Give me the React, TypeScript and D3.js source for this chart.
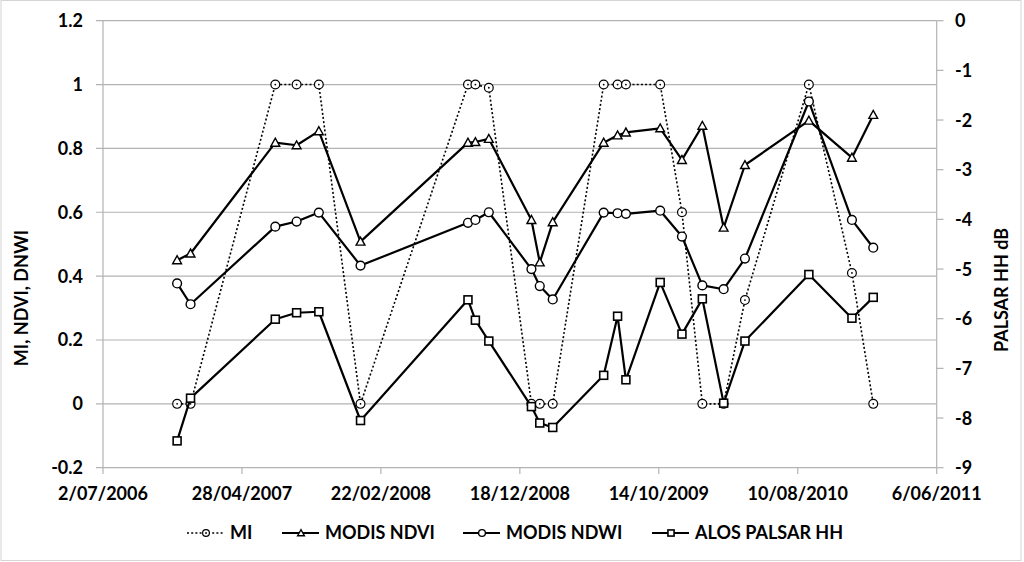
import * as d3 from "d3";

// acquisition dates shared by every series
const dates = [
  "2006-12-09", "2007-01-07", "2007-07-09", "2007-08-24", "2007-10-11",
  "2008-01-09", "2008-08-28", "2008-09-13", "2008-10-12", "2009-01-12",
  "2009-01-30", "2009-02-27", "2009-06-17", "2009-07-17", "2009-08-04",
  "2009-10-17", "2009-12-03", "2010-01-16", "2010-03-03", "2010-04-18",
  "2010-09-03", "2010-12-05", "2011-01-20",
];

const mi = [0, 0, 1, 1, 1, 0, 1, 1, 0.99, 0, 0, 0, 1, 1, 1, 1, 0.6, 0, 0, 0.325, 1, 0.41, 0];
const ndvi = [0.45, 0.471, 0.818, 0.81, 0.854, 0.508, 0.818, 0.82, 0.83, 0.576, 0.443, 0.569, 0.818, 0.841, 0.85, 0.863, 0.764, 0.871, 0.552, 0.748, 0.887, 0.771, 0.905];
const ndwi = [0.377, 0.312, 0.555, 0.571, 0.599, 0.433, 0.567, 0.576, 0.6, 0.422, 0.369, 0.327, 0.599, 0.597, 0.595, 0.605, 0.524, 0.371, 0.359, 0.455, 0.947, 0.576, 0.489];
// right axis, dB
const palsar = [-8.46, -7.6, -6.01, -5.88, -5.86, -8.05, -5.62, -6.03, -6.45, -7.77, -8.1, -8.19, -7.14, -5.95, -7.23, -5.27, -6.31, -5.6, -7.7, -6.45, -5.11, -5.99, -5.57];

const leftTicks = [-0.2, 0, 0.2, 0.4, 0.6, 0.8, 1, 1.2];
const leftLabels = ["-0.2", "0", "0.2", "0.4", "0.6", "0.8", "1", "1.2"];
const rightTicks = [0, -1, -2, -3, -4, -5, -6, -7, -8, -9];
const xTicks = ["2006-07-02", "2007-04-28", "2008-02-22", "2008-12-18", "2009-10-14", "2010-08-10", "2011-06-06"];

const W = 1024;
const H = 562;
const font = "Lato, 'Liberation Sans', sans-serif";

const parse = d3.utcParse("%Y-%m-%d");
const fmtTick = (d: Date) => `${d.getUTCDate()}/${String(d.getUTCMonth() + 1).padStart(2, "0")}/${d.getUTCFullYear()}`;

const x = d3.scaleUtc().domain([parse("2006-07-02")!, parse("2011-06-06")!]).range([103, 936.7]);
const yL = d3.scaleLinear().domain([-0.2, 1.2]).range([467.7, 20.7]);
const yR = d3.scaleLinear().domain([-9, 0]).range([467.7, 20.7]);

type Marker = "circle" | "dotcircle" | "triangle" | "square";

const drawMarker = (kind: Marker, cx: number, cy: number, s: number, key: any) => {
  if (kind === "triangle") {
    const p = `M${cx - s},${cy + s * 0.8}L${cx},${cy - s}L${cx + s},${cy + s * 0.8}Z`;
    return <path key={key} d={p} fill="#fff" stroke="#000" strokeWidth={1.4} />;
  }
  if (kind === "square") {
    return <rect key={key} x={cx - s * 0.9} y={cy - s * 0.9} width={s * 1.8} height={s * 1.8} fill="#fff" stroke="#000" strokeWidth={1.6} />;
  }
  if (kind === "dotcircle") {
    return (
      <g key={key}>
        <circle cx={cx} cy={cy} r={s} fill="#fff" stroke="#000" strokeWidth={1.2} />
        <circle cx={cx} cy={cy} r={0.9} fill="#000" />
      </g>
    );
  }
  return <circle key={key} cx={cx} cy={cy} r={s} fill="#fff" stroke="#000" strokeWidth={1.4} />;
};

const series = [
  { name: "MI", values: mi, y: yL, marker: "dotcircle" as Marker, dash: "2,2.2", width: 1.6 },
  { name: "MODIS NDVI", values: ndvi, y: yL, marker: "triangle" as Marker, dash: undefined, width: 2.2 },
  { name: "MODIS NDWI", values: ndwi, y: yL, marker: "circle" as Marker, dash: undefined, width: 2.2 },
  { name: "ALOS PALSAR HH", values: palsar, y: yR, marker: "square" as Marker, dash: undefined, width: 2.2 },
];

// legend item positions (line start)
const legendX = [187, 282, 463, 652];

export default function App() {
  const pts = dates.map((d) => parse(d)!);
  return (
    <div style={{ position: "fixed", left: 0, top: 0 }}>
      <svg width={W} height={H} style={{ display: "block", background: "#fff" }} fontFamily={font}>
        <rect x={1} y={0.5} width={1020} height={560} fill="#fff" stroke="#d4d4d4" />

        {/* gridlines */}
        {leftTicks.map((t) => (
          <line key={t} x1={96} x2={936.7} y1={yL(t)} y2={yL(t)} stroke="#b3b3b3" strokeWidth={1.2} />
        ))}
        <line x1={103} x2={103} y1={20.7} y2={467.7} stroke="#b3b3b3" strokeWidth={1.2} />
        <line x1={936.7} x2={936.7} y1={20.7} y2={467.7} stroke="#b3b3b3" strokeWidth={1.2} />
        {rightTicks.map((t) => (
          <line key={t} x1={936.7} x2={943.5} y1={yR(t)} y2={yR(t)} stroke="#b3b3b3" strokeWidth={1.2} />
        ))}
        {xTicks.map((t) => (
          <line key={t} x1={x(parse(t)!)} x2={x(parse(t)!)} y1={467.7} y2={474} stroke="#b3b3b3" strokeWidth={1.2} />
        ))}

        {/* tick labels */}
        {leftTicks.map((t, i) => (
          <text key={t} x={83} y={yL(t)} dy="0.36em" textAnchor="end" fontSize={18} fontWeight="bold">
            {leftLabels[i]}
          </text>
        ))}
        {rightTicks.map((t) => (
          <text key={t} x={955} y={yR(t)} dy="0.36em" textAnchor="start" fontSize={18} fontWeight="bold">
            {String(t)}
          </text>
        ))}
        {xTicks.map((t) => (
          <text key={t} x={x(parse(t)!)} y={500} textAnchor="middle" fontSize={18} fontWeight="bold">
            {fmtTick(parse(t)!)}
          </text>
        ))}

        <text transform="translate(28,298) rotate(-90)" textAnchor="middle" fontSize={18} fontWeight="bold">
          MI, NDVI, DNWI
        </text>
        <text transform="translate(1008,290) rotate(-90)" textAnchor="middle" fontSize={18} fontWeight="bold">
          PALSAR HH dB
        </text>

        {/* series */}
        {series.map((s) => {
          const line = d3
            .line<number>()
            .x((_, i) => x(pts[i]))
            .y((v) => s.y(v));
          return (
            <g key={s.name}>
              <path d={line(s.values) || ""} fill="none" stroke="#000" strokeWidth={s.width} strokeDasharray={s.dash} strokeLinejoin="round" />
              {s.values.map((v, i) => drawMarker(s.marker, x(pts[i]), s.y(v), 4.4, i))}
            </g>
          );
        })}

        {/* legend */}
        {series.map((s, i) => {
          const lx = legendX[i];
          const ly = 533;
          return (
            <g key={s.name}>
              <line x1={lx} x2={lx + 37} y1={ly} y2={ly} stroke="#000" strokeWidth={s.dash ? 1.6 : 2.2} strokeDasharray={s.dash} />
              {drawMarker(s.marker, lx + 19, ly, 3.4, "m")}
              <text x={lx + 43} y={ly} dy="0.36em" fontSize={18} fontWeight="bold">
                {s.name}
              </text>
            </g>
          );
        })}
      </svg>
    </div>
  );
}
